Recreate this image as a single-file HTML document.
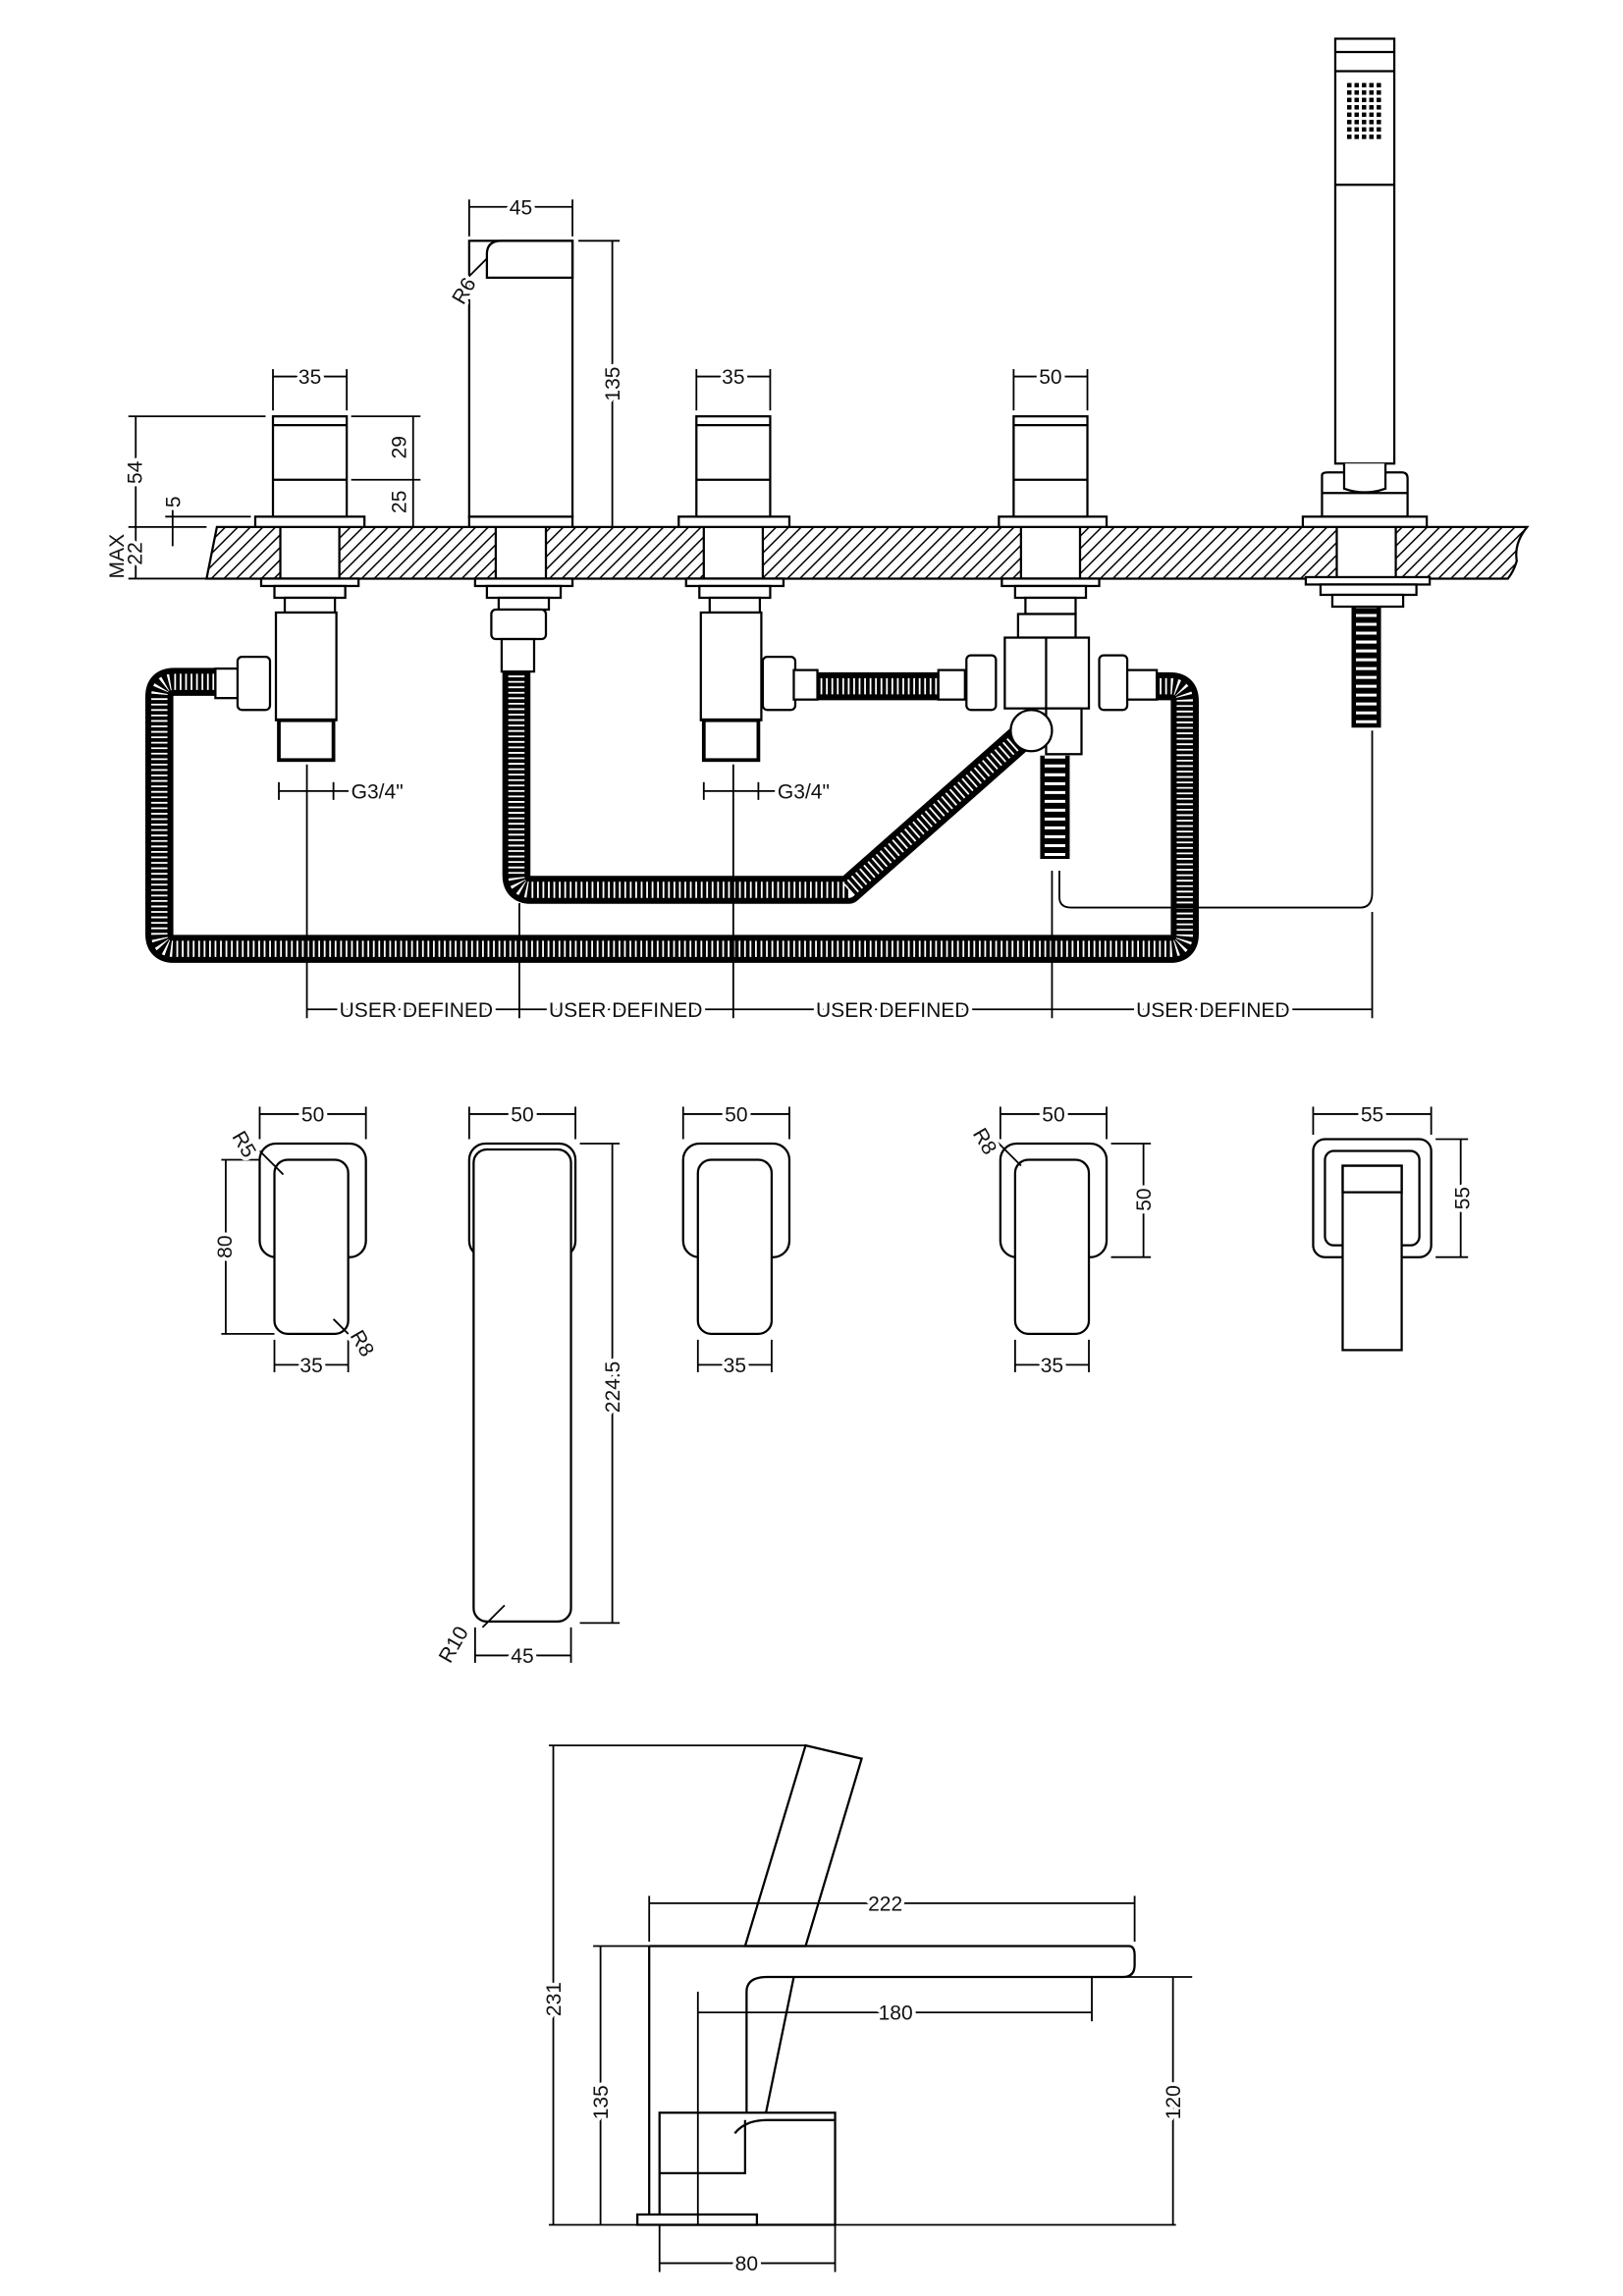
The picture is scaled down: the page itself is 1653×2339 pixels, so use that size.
<!DOCTYPE html>
<html><head><meta charset="utf-8"><style>
html,body{margin:0;padding:0;background:#fff}
svg{display:block}
text{font-family:"Liberation Sans",sans-serif;font-size:14px;fill:#111;stroke:#fff;stroke-width:5px;paint-order:stroke;stroke-linejoin:round}
</style></head><body>
<svg width="1653" height="2339" viewBox="0 0 1100 1556" xmlns="http://www.w3.org/2000/svg">
<defs>
<pattern id="h" width="6" height="6" patternUnits="userSpaceOnUse" patternTransform="rotate(45)">
<rect width="6" height="6" fill="#fff"/><line x1="0" y1="0" x2="0" y2="6" stroke="#000" stroke-width="2"/>
</pattern>
</defs>
<g fill="none" stroke="#000" stroke-width="1.5">
<!-- deck -->
<path d="M147 357 L1035 357 Q1026 368 1028 380 Q1026 387 1022 392 L140 392 Z" fill="url(#h)"/>
<g fill="#fff">
<rect x="190" y="357" width="40" height="35"/><rect x="336" y="357" width="34" height="35"/>
<rect x="477" y="357" width="40" height="35"/><rect x="692" y="357" width="40" height="35"/>
<rect x="906" y="357" width="40" height="35"/>
</g>
<!-- left valve -->
<rect x="173" y="350" width="74" height="7" fill="#fff"/>
<rect x="185" y="282" width="50" height="68" fill="#fff"/>
<line x1="185" y1="288" x2="235" y2="288"/><line x1="185" y1="325" x2="235" y2="325"/>
<!-- spout -->
<rect x="318" y="350" width="70" height="7" fill="#fff"/>
<rect x="318" y="163" width="70" height="187" fill="#fff"/>
<path d="M330 172 Q330 163 340 163 L388 163 L388 188 L330 188 Z"/>
<!-- middle valve -->
<rect x="460" y="350" width="75" height="7" fill="#fff"/>
<rect x="472" y="282" width="50" height="68" fill="#fff"/>
<line x1="472" y1="288" x2="522" y2="288"/><line x1="472" y1="325" x2="522" y2="325"/>
<!-- diverter -->
<rect x="677" y="350" width="73" height="7" fill="#fff"/>
<rect x="687" y="282" width="50" height="68" fill="#fff"/>
<line x1="687" y1="288" x2="737" y2="288"/><line x1="687" y1="325" x2="737" y2="325"/>
<!-- handset -->
<rect x="905" y="26" width="40" height="288" fill="#fff"/>
<line x1="905" y1="35" x2="945" y2="35"/><line x1="905" y1="48" x2="945" y2="48"/><line x1="905" y1="125" x2="945" y2="125"/>
<path d="M896 322 Q896 320 900 320 L950 320 Q954 320 954 324 L954 350 L896 350 Z" fill="#fff"/>
<path d="M911 314 L911 331 Q925 336 939 331 L939 314" fill="#fff"/>
<line x1="896" y1="334" x2="954" y2="334"/>
<rect x="883" y="350" width="84" height="7" fill="#fff"/>
</g>
<g fill="#000">
<g id="dots"><rect x="913" y="56" width="3" height="3"/><rect x="918" y="56" width="3" height="3"/><rect x="923" y="56" width="3" height="3"/><rect x="928" y="56" width="3" height="3"/><rect x="933" y="56" width="3" height="3"/></g>
<use href="#dots" y="5"/><use href="#dots" y="10"/><use href="#dots" y="15"/><use href="#dots" y="20"/><use href="#dots" y="25"/><use href="#dots" y="30"/><use href="#dots" y="35"/>
</g>
<!-- hoses -->
<g fill="none" stroke-linejoin="round" stroke-linecap="butt">
<path d="M160 462 L118 462 Q108 462 108 472 L108 633 Q108 643 118 643 L793 643 Q803 643 803 633 L803 475 Q803 465 793 465 L784 465" stroke="#000" stroke-width="19"/>
<path d="M160 462 L118 462 Q108 462 108 472 L108 633 Q108 643 118 643 L793 643 Q803 643 803 633 L803 475 Q803 465 793 465 L784 465" stroke="#fff" stroke-width="11" stroke-dasharray="1.2 2.5"/>
<path d="M350 454 L350 593 Q350 603 360 603 L575 603 L695 497" stroke="#000" stroke-width="19"/>
<path d="M350 454 L350 593 Q350 603 360 603 L575 603 L695 497" stroke="#fff" stroke-width="11" stroke-dasharray="1.2 2.5"/>
<path d="M545 465 L656 465" stroke="#000" stroke-width="19"/>
<path d="M545 465 L656 465" stroke="#fff" stroke-width="11" stroke-dasharray="1.2 2.5"/>
<path d="M926 410 L926 493" stroke="#000" stroke-width="20"/>
<path d="M926 410 L926 493" stroke="#fff" stroke-width="14" stroke-dasharray="2 4"/>
<path d="M715 512 L715 582" stroke="#000" stroke-width="20"/>
<path d="M715 512 L715 582" stroke="#fff" stroke-width="14" stroke-dasharray="2 4"/>
</g>
<!-- under deck fittings -->
<g fill="#fff" stroke="#000" stroke-width="1.5">
<rect x="177" y="392" width="66" height="5"/><rect x="186" y="397" width="48" height="8"/><rect x="193" y="405" width="34" height="10"/>
<rect x="187" y="415" width="41" height="73"/><rect x="189" y="488" width="37" height="27" stroke-width="2.5"/>
<rect x="322" y="392" width="66" height="5"/><rect x="330" y="397" width="50" height="8"/><rect x="338" y="405" width="34" height="8"/>
<rect x="333" y="413" width="37" height="20" rx="3"/><rect x="340" y="433" width="22" height="22"/>
<rect x="465" y="392" width="66" height="5"/><rect x="474" y="397" width="48" height="8"/><rect x="481" y="405" width="34" height="10"/>
<rect x="475" y="415" width="41" height="73"/><rect x="477" y="488" width="37" height="27" stroke-width="2.5"/>
<rect x="679" y="392" width="66" height="5"/><rect x="688" y="397" width="48" height="8"/><rect x="695" y="405" width="34" height="11"/>
<rect x="690" y="416" width="39" height="16"/>
<rect x="681" y="432" width="57" height="48"/><line x1="709" y1="432" x2="709" y2="480"/>
<rect x="709" y="480" width="24" height="31"/>
<circle cx="699" cy="495" r="14"/>
<rect x="885" y="391" width="84" height="5"/><rect x="895" y="396" width="65" height="7"/><rect x="903" y="403" width="48" height="8"/>
<!-- nuts -->
<rect x="146" y="453" width="16" height="20"/><rect x="161" y="445" width="22" height="36" rx="3"/>
<rect x="517" y="445" width="22" height="36" rx="3"/><rect x="538" y="454" width="16" height="20"/>
<rect x="636" y="454" width="18" height="20"/><rect x="655" y="444" width="20" height="37" rx="3"/>
<rect x="745" y="444" width="19" height="37" rx="3"/><rect x="764" y="454" width="20" height="20"/>
</g>
<g fill="none" stroke="#000" stroke-width="1.2">
<path d="M718 590 L718 608 Q718 615 726 615 L922 615 Q930 615 930 605 L930 495"/>
<!-- dims top -->
<line x1="208" y1="518" x2="208" y2="690"/><line x1="352" y1="612" x2="352" y2="690"/>
<line x1="497" y1="518" x2="497" y2="690"/><line x1="713" y1="590" x2="713" y2="690"/>
<line x1="930" y1="618" x2="930" y2="690"/>
<line x1="208" y1="684" x2="930" y2="684"/>
<line x1="189" y1="530" x2="189" y2="542"/><line x1="226" y1="530" x2="226" y2="542"/><line x1="189" y1="536" x2="238" y2="536"/>
<line x1="477" y1="530" x2="477" y2="542"/><line x1="514" y1="530" x2="514" y2="542"/><line x1="477" y1="536" x2="527" y2="536"/>
<line x1="185" y1="255" x2="235" y2="255"/><line x1="185" y1="250" x2="185" y2="278"/><line x1="235" y1="250" x2="235" y2="278"/>
<line x1="472" y1="255" x2="522" y2="255"/><line x1="472" y1="250" x2="472" y2="278"/><line x1="522" y1="250" x2="522" y2="278"/>
<line x1="687" y1="255" x2="737" y2="255"/><line x1="687" y1="250" x2="687" y2="278"/><line x1="737" y1="250" x2="737" y2="278"/>
<line x1="318" y1="140" x2="388" y2="140"/><line x1="318" y1="135" x2="318" y2="160"/><line x1="388" y1="135" x2="388" y2="160"/>
<line x1="392" y1="163" x2="420" y2="163"/><line x1="415" y1="163" x2="415" y2="357"/>
<line x1="238" y1="282" x2="285" y2="282"/><line x1="280" y1="282" x2="280" y2="357"/><line x1="238" y1="325" x2="285" y2="325"/>
<line x1="87" y1="282" x2="180" y2="282"/><line x1="92" y1="282" x2="92" y2="392"/><line x1="87" y1="357" x2="140" y2="357"/>
<line x1="87" y1="392" x2="140" y2="392"/>
<line x1="117" y1="340" x2="117" y2="370"/><line x1="112" y1="350" x2="170" y2="350"/>
<line x1="305" y1="200" x2="330" y2="175"/>
</g>
<g>
<text x="210" y="260" text-anchor="middle">35</text>
<text x="353" y="145" text-anchor="middle">45</text>
<text x="497" y="260" text-anchor="middle">35</text>
<text x="712" y="260" text-anchor="middle">50</text>
<text x="238" y="541">G3/4"</text><text x="527" y="541">G3/4"</text>
<text x="230" y="689">USER DEFINED</text><text x="372" y="689">USER DEFINED</text>
<text x="553" y="689">USER DEFINED</text><text x="770" y="689">USER DEFINED</text>
<text transform="translate(420,260) rotate(-90)" text-anchor="middle">135</text>
<text transform="translate(275,303) rotate(-90)" text-anchor="middle">29</text>
<text transform="translate(275,340) rotate(-90)" text-anchor="middle">25</text>
<text transform="translate(96,320) rotate(-90)" text-anchor="middle">54</text>
<text transform="translate(122,340) rotate(-90)" text-anchor="middle">5</text>
<text transform="translate(96,375) rotate(-90)" text-anchor="middle">22</text>
<text transform="translate(84,392) rotate(-90)" text-anchor="start">MAX</text>
<text transform="translate(314,207) rotate(-60)">R6</text>
</g>
<!-- plan views -->
<g fill="none" stroke="#000" stroke-width="1.5">
<rect x="176" y="775" width="72" height="77" rx="11"/><rect x="186" y="786" width="50" height="118" rx="9" fill="#fff"/>
<rect x="318" y="775" width="72" height="77" rx="11"/><rect x="321" y="779" width="66" height="320" rx="9" fill="#fff"/>
<rect x="463" y="775" width="72" height="77" rx="11"/><rect x="473" y="786" width="50" height="118" rx="9" fill="#fff"/>
<rect x="678" y="775" width="72" height="77" rx="11"/><rect x="688" y="786" width="50" height="118" rx="9" fill="#fff"/>
<rect x="890" y="772" width="80" height="80" rx="8"/><rect x="898" y="780" width="64" height="64" rx="6"/>
<rect x="910" y="790" width="40" height="125" fill="#fff"/><rect x="910" y="790" width="40" height="18"/>
</g>
<g fill="none" stroke="#000" stroke-width="1.2">
<line x1="176" y1="755" x2="248" y2="755"/><line x1="176" y1="750" x2="176" y2="772"/><line x1="248" y1="750" x2="248" y2="772"/>
<line x1="186" y1="925" x2="236" y2="925"/><line x1="186" y1="908" x2="186" y2="930"/><line x1="236" y1="908" x2="236" y2="930"/>
<line x1="150" y1="786" x2="176" y2="786"/><line x1="150" y1="904" x2="186" y2="904"/><line x1="153" y1="786" x2="153" y2="904"/>
<line x1="318" y1="755" x2="390" y2="755"/><line x1="318" y1="750" x2="318" y2="772"/><line x1="390" y1="750" x2="390" y2="772"/>
<line x1="393" y1="775" x2="420" y2="775"/><line x1="393" y1="1100" x2="420" y2="1100"/><line x1="415" y1="775" x2="415" y2="1100"/>
<line x1="322" y1="1122" x2="387" y2="1122"/><line x1="322" y1="1103" x2="322" y2="1127"/><line x1="387" y1="1103" x2="387" y2="1127"/>
<line x1="463" y1="755" x2="535" y2="755"/><line x1="463" y1="750" x2="463" y2="772"/><line x1="535" y1="750" x2="535" y2="772"/>
<line x1="473" y1="925" x2="523" y2="925"/><line x1="473" y1="908" x2="473" y2="930"/><line x1="523" y1="908" x2="523" y2="930"/>
<line x1="678" y1="755" x2="750" y2="755"/><line x1="678" y1="750" x2="678" y2="772"/><line x1="750" y1="750" x2="750" y2="772"/>
<line x1="688" y1="925" x2="738" y2="925"/><line x1="688" y1="908" x2="688" y2="930"/><line x1="738" y1="908" x2="738" y2="930"/>
<line x1="753" y1="775" x2="780" y2="775"/><line x1="753" y1="852" x2="780" y2="852"/><line x1="775" y1="775" x2="775" y2="852"/>
<line x1="890" y1="755" x2="970" y2="755"/><line x1="890" y1="750" x2="890" y2="769"/><line x1="970" y1="750" x2="970" y2="769"/>
<line x1="973" y1="772" x2="995" y2="772"/><line x1="973" y1="852" x2="995" y2="852"/><line x1="990" y1="772" x2="990" y2="852"/>
<line x1="172" y1="776" x2="192" y2="796"/><line x1="226" y1="894" x2="240" y2="908"/><line x1="327" y1="1103" x2="342" y2="1088"/>
<line x1="674" y1="772" x2="692" y2="790"/>
</g>
<g>
<text x="212" y="760" text-anchor="middle">50</text><text x="211" y="930" text-anchor="middle">35</text>
<text x="354" y="760" text-anchor="middle">50</text><text x="354" y="1127" text-anchor="middle">45</text>
<text x="499" y="760" text-anchor="middle">50</text><text x="498" y="930" text-anchor="middle">35</text>
<text x="714" y="760" text-anchor="middle">50</text><text x="713" y="930" text-anchor="middle">35</text>
<text x="930" y="760" text-anchor="middle">55</text>
<text transform="translate(157,845) rotate(-90)" text-anchor="middle">80</text>
<text transform="translate(420,940) rotate(-90)" text-anchor="middle">224.5</text>
<text transform="translate(780,813) rotate(-90)" text-anchor="middle">50</text>
<text transform="translate(996,812) rotate(-90)" text-anchor="middle">55</text>
<text transform="translate(157,770) rotate(60)">R5</text>
<text transform="translate(237,905) rotate(60)">R8</text>
<text transform="translate(659,768) rotate(60)">R8</text>
<text transform="translate(305,1128) rotate(-60)">R10</text>
</g>
<!-- side view -->
<g fill="none" stroke="#000" stroke-width="1.5">
<path d="M546 1183 L584 1192 L546 1319 L505 1319 Z" fill="#fff"/>
<path d="M440 1319 L765 1319 Q769 1319 769 1325 L769 1332 Q769 1340 761 1340 L520 1340 Q506 1340 506 1350 L506 1501"/>
<path d="M440 1319 L440 1501"/>
<path d="M538 1340 L505 1501"/>
<rect x="447" y="1432" width="119" height="76" fill="#fff"/>
<path d="M447 1473 L505 1473 L505 1437"/>
<path d="M498 1446 Q505 1437 520 1437 L566 1437"/>
<rect x="432" y="1501" width="81" height="7" fill="#fff"/>
</g>
<g fill="none" stroke="#000" stroke-width="1.2">
<line x1="372" y1="1183" x2="546" y2="1183"/><line x1="375" y1="1183" x2="375" y2="1508"/><line x1="372" y1="1508" x2="797" y2="1508"/>
<line x1="402" y1="1319" x2="440" y2="1319"/><line x1="407" y1="1319" x2="407" y2="1508"/>
<line x1="440" y1="1290" x2="769" y2="1290"/><line x1="440" y1="1285" x2="440" y2="1316"/><line x1="769" y1="1285" x2="769" y2="1316"/>
<line x1="473" y1="1350" x2="473" y2="1508"/><line x1="473" y1="1364" x2="740" y2="1364"/><line x1="740" y1="1340" x2="740" y2="1370"/>
<line x1="763" y1="1340" x2="808" y2="1340"/><line x1="795" y1="1340" x2="795" y2="1508"/>
<line x1="447" y1="1508" x2="447" y2="1540"/><line x1="566" y1="1508" x2="566" y2="1540"/><line x1="447" y1="1534" x2="566" y2="1534"/>
</g>
<g>
<text x="600" y="1295" text-anchor="middle">222</text>
<text x="607" y="1369" text-anchor="middle">180</text>
<text x="506" y="1539" text-anchor="middle">80</text>
<text transform="translate(380,1355) rotate(-90)" text-anchor="middle">231</text>
<text transform="translate(412,1425) rotate(-90)" text-anchor="middle">135</text>
<text transform="translate(800,1425) rotate(-90)" text-anchor="middle">120</text>
</g>
</svg>
</body></html>
